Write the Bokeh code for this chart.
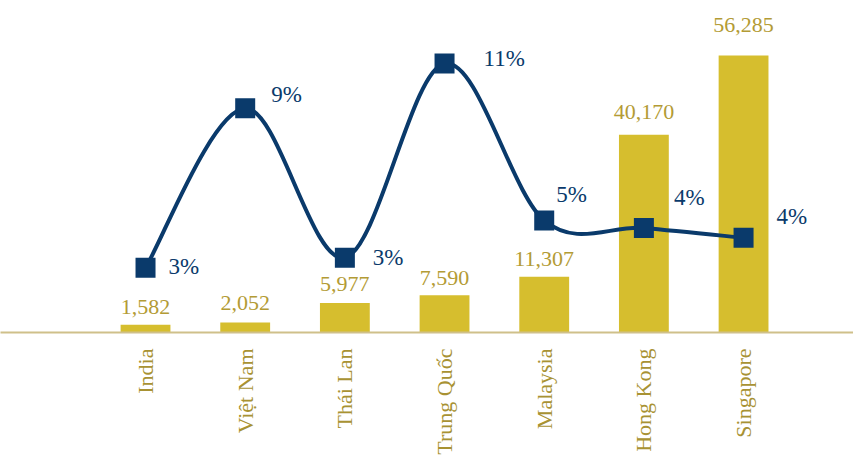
import math
from bokeh.plotting import figure
from bokeh.models import ColumnDataSource, Range1d, FixedTicker
from bokeh.core.properties import value
from bokeh.embed import file_html
from bokeh.resources import INLINE

categories = ["India", "Việt Nam", "Thái Lan", "Trung Quốc", "Malaysia", "Hong Kong", "Singapore"]
bar_values = [1582, 2052, 5977, 7590, 11307, 40170, 56285]
pct_values = [2.6, 9.0, 3.0, 10.8, 4.5, 4.2, 3.8]

# label placement (pixels), styling only
bar_label_gap = [11, 12, 12, 10, 11, 16, 23]
pct_dx = [23, 26, 28, 39, 12, 30, 33]
pct_dy = [-1, -14, 0, -5, -26, -30, -21]

GOLD = "#D6BE2E"
GOLD_TEXT = "#B39B35"
GOLD_CAT = "#A89233"
NAVY = "#0A3A6B"
FONT = value("Liberation Serif")

xs = list(range(len(categories)))

p = figure(frame_width=853, frame_height=332, output_backend="svg", toolbar_location=None,
           x_range=Range1d(-1.455, 7.103), y_range=Range1d(0, 67460),
           y_axis_location=None, min_border_left=0, min_border_right=0, min_border_top=0,
           min_border_bottom=0)
p.extra_y_ranges = {"pct": Range1d(0, 13.33)}
p.outline_line_color = None
p.xgrid.visible = False
p.ygrid.visible = False
p.background_fill_color = "white"
p.border_fill_color = "white"

# bars
bsrc = ColumnDataSource(dict(x=xs, top=bar_values,
                             label=[f"{v:,}" for v in bar_values],
                             yoff=[-g for g in bar_label_gap]))
p.vbar(x="x", top="top", width=0.5, bottom=0, source=bsrc, fill_color=GOLD, line_color=None)
p.text(x="x", y="top", text="label", source=bsrc, y_offset="yoff",
       text_align="center", text_baseline="bottom", text_font=FONT,
       text_font_size="22px", text_color=GOLD_TEXT)

# smooth line through pct points (Catmull-Rom -> cubic bezier)
n = len(pct_values)
pts = list(zip(xs, pct_values))
x0s, y0s, x1s, y1s, cx0, cy0, cx1, cy1 = [], [], [], [], [], [], [], []
for i in range(n - 1):
    p0 = pts[max(i - 1, 0)]
    p1 = pts[i]
    p2 = pts[i + 1]
    p3 = pts[min(i + 2, n - 1)]
    x0s.append(p1[0]); y0s.append(p1[1])
    x1s.append(p2[0]); y1s.append(p2[1])
    cx0.append(p1[0] + (p2[0] - p0[0]) / 6); cy0.append(p1[1] + (p2[1] - p0[1]) / 6)
    cx1.append(p2[0] - (p3[0] - p1[0]) / 6); cy1.append(p2[1] - (p3[1] - p1[1]) / 6)
p.bezier(x0=x0s, y0=y0s, x1=x1s, y1=y1s, cx0=cx0, cy0=cy0, cx1=cx1, cy1=cy1,
         y_range_name="pct", line_color=NAVY, line_width=4)

psrc = ColumnDataSource(dict(x=xs, y=pct_values,
                             label=[f"{int(v + 0.5)}%" for v in pct_values],
                             dx=pct_dx, dy=pct_dy))
p.scatter(x="x", y="y", source=psrc, marker="square", size=20, y_range_name="pct",
          fill_color=NAVY, line_color=None)
p.text(x="x", y="y", text="label", source=psrc, x_offset="dx", y_offset="dy",
       y_range_name="pct", text_align="left", text_baseline="middle", text_font=FONT,
       text_font_size="23px", text_color=NAVY)

# x axis
ax = p.xaxis[0]
ax.ticker = FixedTicker(ticks=xs)
ax.major_label_overrides = {i: c for i, c in enumerate(categories)}
ax.major_label_orientation = math.pi / 2
ax.major_tick_line_color = None
ax.minor_tick_line_color = None
ax.axis_line_color = "#CFC08A"
ax.axis_line_width = 2
ax.major_label_standoff = 10
ax.major_label_text_font = "Liberation Serif"
ax.major_label_text_font_size = "22px"
ax.major_label_text_color = GOLD_CAT

open("out.html", "w").write(file_html(p, INLINE))
